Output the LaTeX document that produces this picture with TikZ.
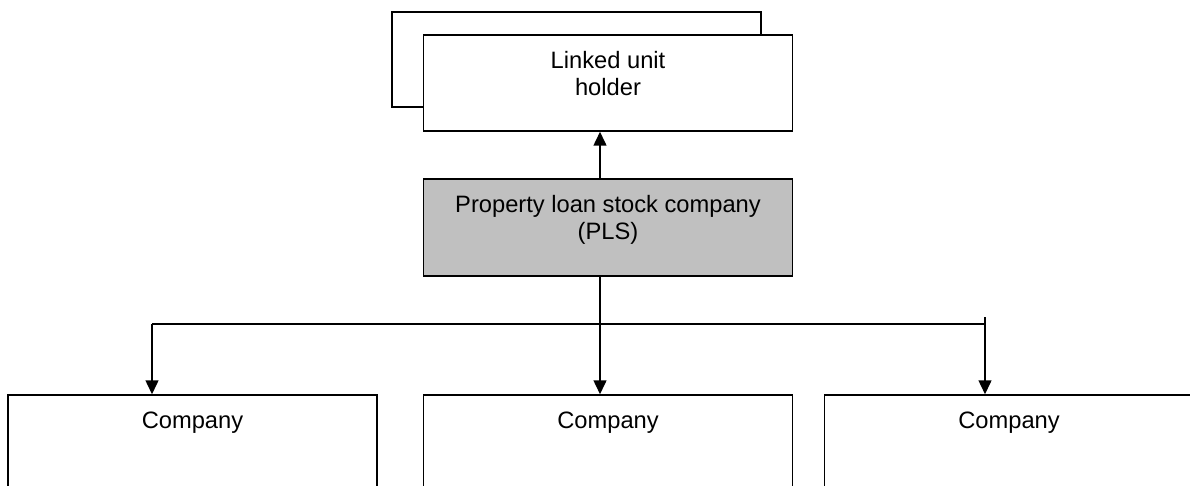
\documentclass[tikz,border=0pt]{standalone}
\usepackage{fontspec}
\setmainfont{Liberation Sans}
\usetikzlibrary{arrows.meta}
\definecolor{plsgray}{RGB}{192,192,192}
\tikzset{bx/.append style={draw,rectangle,line width=1.5pt,minimum width=369pt,inner sep=0pt}}
\tikzset{gg/.append style={fill=plsgray}}
\tikzset{tx/.append style={anchor=base,align=center,inner sep=0pt,font=\fontsize{23.7}{27.4}\selectfont}}
\tikzset{ln/.append style={line width=1.5pt}}
\tikzset{ar/.append style={line width=1.5pt,-{Triangle[length=14pt,width=13pt]}}}

\begin{document}
\begin{tikzpicture}[x=1pt,y=-1pt]
                \clip (0,0) rectangle (1190,486);
                % boxes
                \node[bx,minimum height=95pt] (back) at (576.5,59.5) {};
                \node[bx,fill=white,minimum height=96pt] (holder) at (608,83) {};
                \node[bx,gg,minimum height=97pt] (pls) at (608,227.5) {};
                \node[bx,minimum height=120pt] (c1) at (192.5,455) {};
                \node[bx,minimum height=120pt] (c2) at (608,455) {};
                \node[bx,minimum height=120pt] (c3) at (1009,455) {};
                % texts (base = last line)
                \node[tx] (holdertx) at ([yshift=-61.4pt]holder.north) {Linked unit\\holder};
                \node[tx] (plstx) at ([yshift=-61.4pt]pls.north) {Property loan stock company\\(PLS)};
                \node[tx] (c1tx) at ([yshift=-34pt]c1.north) {Company};
                \node[tx] (c2tx) at ([yshift=-34pt]c2.north) {Company};
                \node[tx] (c3tx) at ([yshift=-34pt]c3.north) {Company};
                % connectors
                \coordinate (stem) at (600,324);
                \coordinate (lft) at (152,324);
                \coordinate (rgt) at (985,317);
                \path (pls.north -| stem) edge[ar] (holder.south -| stem);
                \path (lft) edge[ln] (rgt |- stem);
                \path (lft) edge[ar] (c1.north -| lft);
                \path (pls.south -| stem) edge[ar] (c2.north -| stem);
                \path (rgt) edge[ar] (c3.north -| rgt);
            \end{tikzpicture}
\end{document}
